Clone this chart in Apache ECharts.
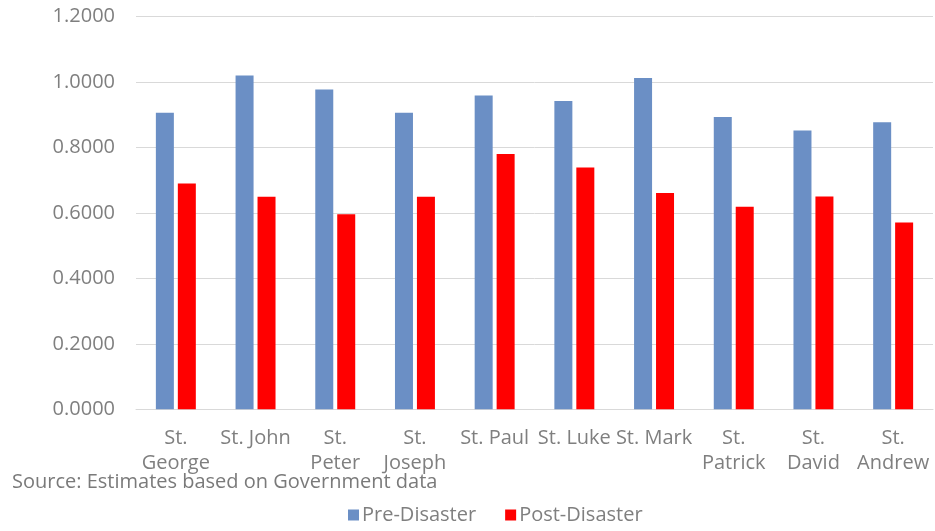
<!DOCTYPE html>
<html><head><meta charset="utf-8">
<script src="https://cdn.jsdelivr.net/npm/echarts@6/dist/echarts.min.js"></script>
<style>html,body{margin:0;padding:0;background:#fff}#c{width:935px;height:531px}</style>
</head><body><div id="c"></div>
<script>
var categories = ['St.\nGeorge','St. John','St.\nPeter','St.\nJoseph','St. Paul','St. Luke','St. Mark','St.\nPatrick','St.\nDavid','St.\nAndrew'];
var preDisaster = [0.906, 1.020, 0.977, 0.906, 0.959, 0.942, 1.012, 0.893, 0.852, 0.877];
var postDisaster = [0.690, 0.649, 0.596, 0.649, 0.780, 0.739, 0.661, 0.619, 0.650, 0.571];
var seriesNames = ['Pre-Disaster','Post-Disaster'];
var sourceText = 'Source: Estimates based on Government data';

var FONT = 'Open Sans';
var TXT = '#7f7f7f';
var chart = echarts.init(document.getElementById('c'));
chart.setOption({
  animation: false,
  textStyle: {fontFamily: FONT},
  grid: {left: 136, right: 2, top: 16.5, bottom: 121.7},
  title: {text: sourceText, left: 12, top: 472, padding: 0, textStyle: {fontFamily: FONT, fontSize: 20, fontWeight: 'normal', color: '#7a7a7a'}},
  legend: {left: 348, top: 505, padding: 0, itemWidth: 11, itemHeight: 11, itemGap: 29, icon: 'rect',
    textStyle: {fontFamily: FONT, fontSize: 20, color: TXT, padding: [0,0,0,-2]}, data: seriesNames},
  xAxis: {type: 'category', data: categories,
    axisLine: {lineStyle: {color: '#d9d9d9', width: 1}}, axisTick: {show: false},
    axisLabel: {fontFamily: FONT, fontSize: 20, color: TXT, lineHeight: 25, margin: 16, interval: 0}},
  yAxis: {type: 'value', min: 0, max: 1.2, interval: 0.2,
    axisLine: {show: false}, axisTick: {show: false},
    splitLine: {lineStyle: {color: '#d9d9d9', width: 1}},
    axisLabel: {fontFamily: FONT, fontSize: 20, color: TXT, margin: 21, formatter: function(v){return v.toFixed(4);}}},
  series: [
    {name: seriesNames[0], type: 'bar', data: preDisaster, barWidth: 18, barGap: '22%', itemStyle: {color: '#6b8fc5'}},
    {name: seriesNames[1], type: 'bar', data: postDisaster, barWidth: 18, itemStyle: {color: '#ff0000'}}
  ]
});
</script></body></html>
